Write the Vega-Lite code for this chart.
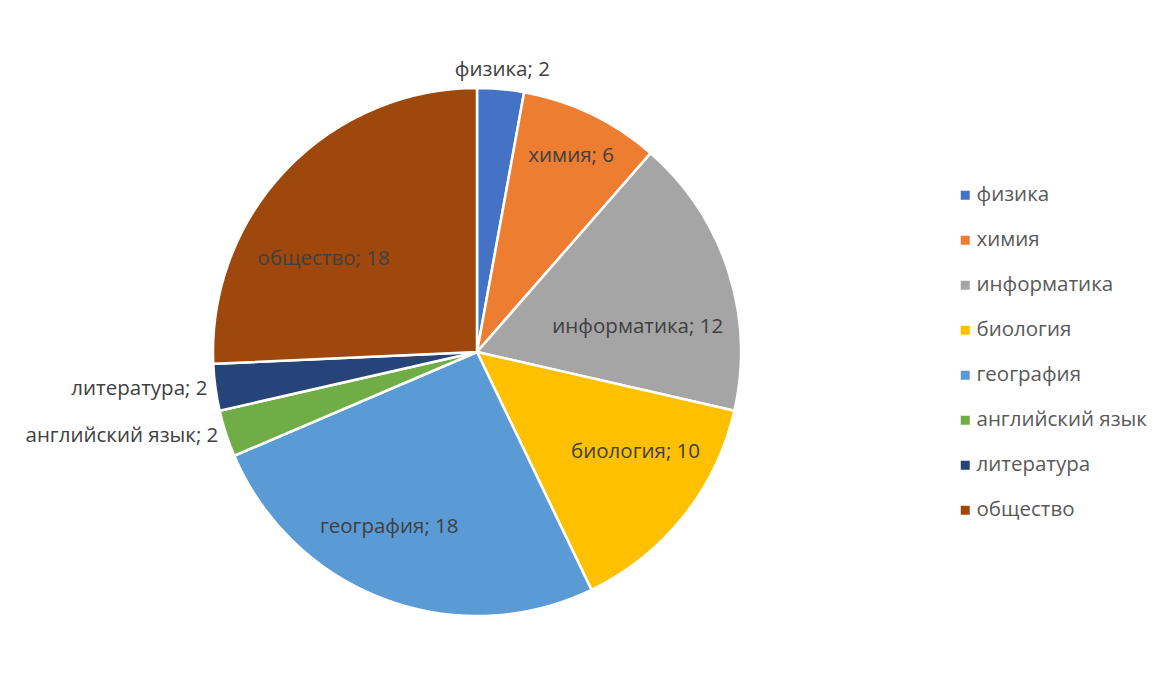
{
  "$schema": "https://vega.github.io/schema/vega-lite/v6.json",
  "width": 954,
  "height": 648,
  "padding": {"left": 0, "top": 28, "right": 0, "bottom": 0},
  "background": "white",
  "config": {"view": {"stroke": null}, "font": "Open Sans", "text": {"fontSize": 20.5, "fill": "#404040", "align": "center", "baseline": "middle"}},
  "data": {
    "values": [
      {"subject": "физика", "count": 2},
      {"subject": "химия", "count": 6},
      {"subject": "информатика", "count": 12},
      {"subject": "биология", "count": 10},
      {"subject": "география", "count": 18},
      {"subject": "английский язык", "count": 2},
      {"subject": "литература", "count": 2},
      {"subject": "общество", "count": 18}
    ]
  },
  "transform": [
    {"window": [{"op": "row_number", "as": "idx"}]},
    {"calculate": "datum.subject + '; ' + datum.count", "as": "label"}
  ],
  "encoding": {
    "theta": {"field": "count", "type": "quantitative", "stack": true},
    "order": {"field": "idx", "type": "quantitative"}
  },
  "layer": [
    {
      "mark": {"type": "arc", "radius": 264, "stroke": "white", "strokeWidth": 2.5},
      "encoding": {
        "color": {
          "field": "subject",
          "type": "nominal",
          "sort": ["физика", "химия", "информатика", "биология", "география", "английский язык", "литература", "общество"],
          "scale": {
            "domain": ["физика", "химия", "информатика", "биология", "география", "английский язык", "литература", "общество"],
            "range": ["#4472C4", "#ED7D31", "#A5A5A5", "#FFC000", "#5B9BD5", "#70AD47", "#264478", "#9E480E"]
          },
          "legend": {
            "title": null,
            "orient": "none",
            "legendX": 955,
            "legendY": 157,
            "symbolType": "square",
            "symbolSize": 81,
            "symbolStrokeWidth": 0,
            "labelFontSize": 20.5,
            "labelColor": "#595959",
            "labelOffset": 1,
            "labelLimit": 300,
            "rowPadding": 24,
            "labelFont": "Open Sans"
          }
        }
      }
    },
    {
      "mark": {"type": "text", "radius": 217},
      "encoding": {"text": {"condition": {"test": "datum.subject == 'химия'", "field": "label"}, "value": ""}}
    },
    {
      "mark": {"type": "text", "radius": 169, "dy": 27},
      "encoding": {"text": {"condition": {"test": "datum.subject == 'информатика'", "field": "label"}, "value": ""}}
    },
    {
      "mark": {"type": "text", "radius": 190, "dx": 10, "dy": -18},
      "encoding": {"text": {"condition": {"test": "datum.subject == 'биология'", "field": "label"}, "value": ""}}
    },
    {
      "mark": {"type": "text", "radius": 190, "dx": -21, "dy": -3},
      "encoding": {"text": {"condition": {"test": "datum.subject == 'география'", "field": "label"}, "value": ""}}
    },
    {
      "mark": {"type": "text", "radius": 190, "dx": -16, "dy": 38},
      "encoding": {"text": {"condition": {"test": "datum.subject == 'общество'", "field": "label"}, "value": ""}}
    },
    {
      "mark": {"type": "text", "radius": 272, "align": "right"},
      "encoding": {"text": {"condition": {"test": "datum.subject == 'литература' || datum.subject == 'английский язык'", "field": "label"}, "value": ""}}
    },
    {
      "mark": {"type": "text", "radius": 283},
      "encoding": {"text": {"condition": {"test": "datum.subject == 'физика'", "field": "label"}, "value": ""}}
    }
  ]
}
